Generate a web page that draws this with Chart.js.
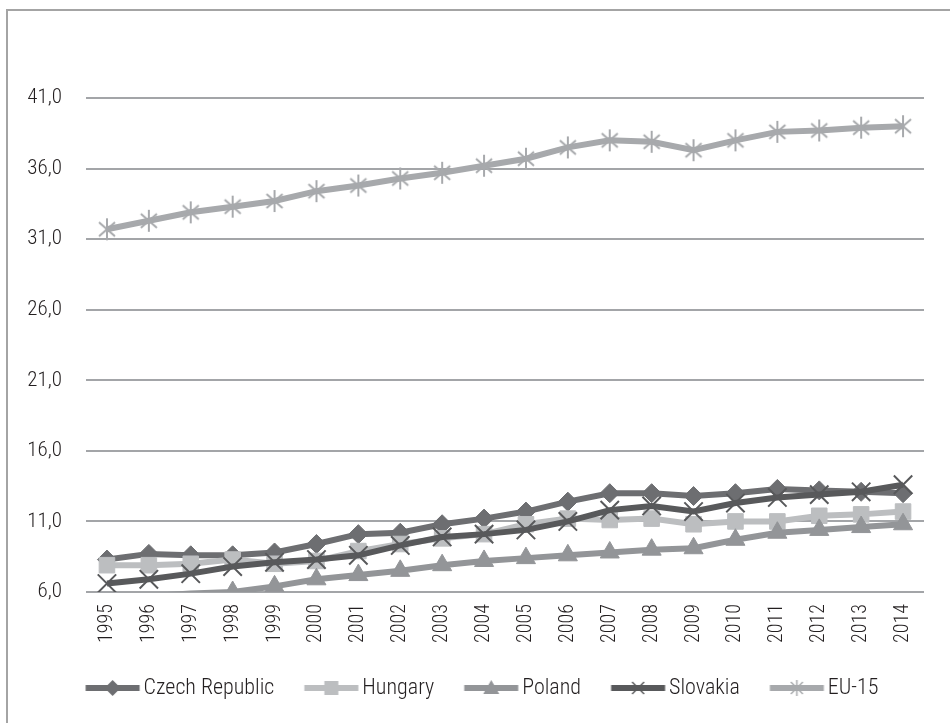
<!DOCTYPE html>
<html>
<head>
<meta charset="utf-8">
<script src="https://cdn.jsdelivr.net/npm/chart.js@4/dist/chart.umd.min.js"></script>
<style>
  html, body { margin: 0; padding: 0; background: #fff; overflow: hidden; }
  #wrap { position: relative; width: 950px; height: 723px; }
  #frame { position: absolute; left: 6px; top: 9px; width: 960px; height: 760px;
           border-left: 2px solid #a4a4a4; border-top: 2px solid #a4a4a4; pointer-events: none; }
</style>
</head>
<body>
<div id="wrap">
  <canvas id="chart" width="950" height="723"></canvas>
  <div id="frame"></div>
</div>
<script>
const years = ['1995','1996','1997','1998','1999','2000','2001','2002','2003','2004',
               '2005','2006','2007','2008','2009','2010','2011','2012','2013','2014'];

const czech    = [8.3, 8.7, 8.6, 8.6, 8.8, 9.4, 10.1, 10.2, 10.8, 11.2, 11.7, 12.4, 13.0, 13.0, 12.8, 13.0, 13.3, 13.2, 13.1, 13.0];
const hungary  = [7.9, 7.9, 8.0, 8.3, 8.0, 8.2, 8.9, 9.4, 9.8, 10.1, 10.8, 11.2, 11.1, 11.2, 10.8, 11.0, 11.0, 11.4, 11.5, 11.7];
const poland   = [5.4, 5.7, 5.9, 6.0, 6.4, 6.9, 7.2, 7.5, 7.9, 8.2, 8.4, 8.6, 8.8, 9.0, 9.1, 9.7, 10.2, 10.4, 10.6, 10.8];
const slovakia = [6.6, 6.9, 7.3, 7.8, 8.1, 8.3, 8.6, 9.3, 9.9, 10.1, 10.4, 11.0, 11.8, 12.1, 11.7, 12.3, 12.7, 12.9, 13.1, 13.6];
const eu15     = [31.7, 32.3, 32.9, 33.3, 33.7, 34.4, 34.8, 35.3, 35.7, 36.2, 36.7, 37.5, 38.0, 37.9, 37.3, 38.0, 38.6, 38.7, 38.9, 39.0];

const seriesNames = ['Czech Republic', 'Hungary', 'Poland', 'Slovakia', 'EU-15'];

const Y_MIN = 6, Y_MAX = 41, Y_STEP = 5;
const FONT = '"Roboto Condensed", Roboto, sans-serif';

// asterisk marker (X plus vertical bar), used for EU-15
function asterisk(color){
  const c = document.createElement('canvas');
  c.width = 24; c.height = 24;
  const g = c.getContext('2d');
  g.strokeStyle = color; g.lineWidth = 2;
  g.beginPath();
  g.moveTo(4, 5); g.lineTo(20, 19); g.moveTo(20, 5); g.lineTo(4, 19);
  g.moveTo(12, 1); g.lineTo(12, 23);
  g.stroke();
  return c;
}

// ---------- legend icons: thick line with the marker in the middle ----------
function legendIcon(color, style){
  const c = document.createElement('canvas');
  c.width = 84; c.height = 24;
  const g = c.getContext('2d');
  const x0 = 28.5, x1 = 82.5, cx = 55.5, cy = 12;
  g.strokeStyle = color; g.lineWidth = 6;
  g.beginPath(); g.moveTo(x0, cy); g.lineTo(x1, cy); g.stroke();
  g.fillStyle = color; g.lineWidth = 1.5;
  g.beginPath();
  if (style === 'rectRot'){
    g.moveTo(cx, cy-8); g.lineTo(cx+8, cy); g.lineTo(cx, cy+8); g.lineTo(cx-8, cy); g.closePath(); g.fill();
  } else if (style === 'rect'){
    g.rect(cx-7, cy-7, 14, 14); g.fill();
  } else if (style === 'triangle'){
    g.moveTo(cx, cy-8); g.lineTo(cx+8, cy+6); g.lineTo(cx-8, cy+6); g.closePath(); g.fill();
  } else if (style === 'crossRot'){
    g.moveTo(cx-6, cy-6); g.lineTo(cx+6, cy+6); g.moveTo(cx+6, cy-6); g.lineTo(cx-6, cy+6); g.stroke();
  } else {
    g.moveTo(cx-6, cy-6); g.lineTo(cx+6, cy+6); g.moveTo(cx+6, cy-6); g.lineTo(cx-6, cy+6);
    g.moveTo(cx, cy-8); g.lineTo(cx, cy+8); g.stroke();
  }
  return c;
}

function series(label, data, color, style, radius, filled, order){
  return {
    label, data, order,
    borderColor: color, backgroundColor: color,
    borderWidth: 6,
    pointStyle: style === 'asterisk' ? asterisk(color) : style,
    // markers for values under the axis floor are not shown
    pointRadius: ctx => (ctx.raw < Y_MIN ? 0 : radius),
    pointHoverRadius: radius,
    pointBackgroundColor: filled ? color : 'rgba(0,0,0,0)',
    pointBorderColor: color,
    pointBorderWidth: filled ? 1 : 2,
    tension: 0,
    icon: legendIcon(color, style)
  };
}

const datasets = [
  series(seriesNames[0], czech,    '#6d6e71', 'rectRot',  9.5,  true,  5),
  series(seriesNames[1], hungary,  '#bcbec0', 'rect',     11,   true,  4),
  series(seriesNames[2], poland,   '#939598', 'triangle', 11,   true,  3),
  series(seriesNames[3], slovakia, '#58595b', 'crossRot', 13,   false, 2),
  series(seriesNames[4], eu15,     '#a7a9ac', 'asterisk', 11,   false, 1)
];

new Chart(document.getElementById('chart'), {
  type: 'line',
  data: { labels: years, datasets },
  options: {
    responsive: false,
    animation: false,
    layout: { padding: { left: 20, right: 26, top: 98, bottom: 14 } },
    plugins: {
      tooltip: { enabled: false },
      legend: {
        position: 'bottom',
        labels: {
          usePointStyle: true,
          pointStyleWidth: 67,
          padding: 10,
          color: '#231f20',
          font: { family: FONT, size: 22, weight: 300 },
          sort: (a, b) => a.datasetIndex - b.datasetIndex,
          generateLabels(chart){
            const items = Chart.defaults.plugins.legend.labels.generateLabels(chart);
            items.forEach(it => { it.pointStyle = chart.data.datasets[it.datasetIndex].icon; });
            return items;
          }
        }
      }
    },
    scales: {
      x: {
        offset: true,
        grid: { display: false },
        border: { display: false },
        ticks: { color: '#231f20', font: { family: FONT, size: 20, weight: 300 }, minRotation: 90, maxRotation: 90, padding: 4, autoSkip: false },
        afterFit(scale){ scale.height = 75; }
      },
      y: {
        min: Y_MIN, max: Y_MAX,
        grid: { color: '#a3a5a8', lineWidth: 2, drawTicks: false },
        border: { display: false },
        ticks: {
          stepSize: Y_STEP, padding: 24, color: '#231f20',
          font: { family: FONT, size: 21, weight: 300 },
          callback: v => v.toFixed(1).replace('.', ',')
        },
        afterFit(scale){ scale.width = 66; }
      }
    }
  }
});
</script>
</body>
</html>
